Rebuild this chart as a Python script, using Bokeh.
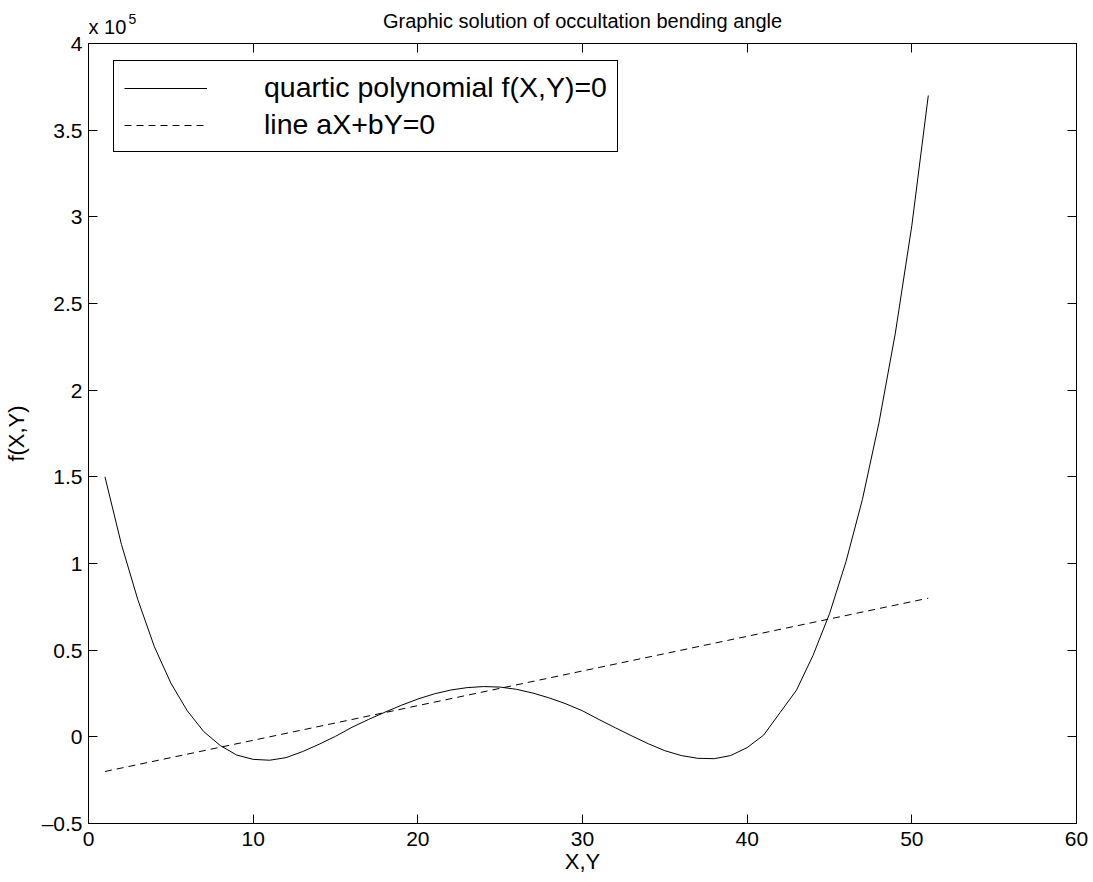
from bokeh.plotting import figure
from bokeh.layouts import column
from bokeh.models import (Range1d, LinearAxis, FixedTicker, CustomJSTickFormatter,
                          Legend, LegendItem)
from bokeh.core.properties import value
from bokeh.embed import file_html
from bokeh.resources import INLINE

# quartic polynomial sampled at X = 1..51
x_poly = list(range(1, 52))
f_poly = [150000, 111000, 79000, 52000, 31000, 15000, 3000, -5000, -10500, -13000,
          -13500, -12000, -8500, -4300, 300, 5500, 10000, 14200, 18200, 21800,
          24800, 27000, 28400, 29000, 28700, 27400, 25200, 22400, 19000, 15000,
          10000, 5200, 500, -4000, -8000, -10800, -12400, -12600, -10800, -6200,
          1000, 14000, 27000, 47000, 71000, 101000, 137000, 181000, 233000, 295000,
          370000]

# straight line aX+bY=0
x_line = [1, 51]
f_line = [-20000, 80000]

x_ticks = [0, 10, 20, 30, 40, 50, 60]
y_ticks = [-50000, 0, 50000, 100000, 150000, 200000, 250000, 300000, 350000, 400000]

title_text = "Graphic solution of occultation bending angle"
FONT = "Liberation Sans"

W, H = 1093, 882
HEAD = 43             # header strip height (= top of the axes box)
OVERLAP = 12          # main plot border that slides under the header
LEFT, RIGHT = 88, 17  # plot frame borders
LIFT = 7              # baseline correction for the header texts

# header strip: title and the y-axis scale factor, in page pixels
hdr = figure(width=W, height=HEAD, output_backend="svg", toolbar_location=None,
             x_range=Range1d(LEFT, W - RIGHT), y_range=Range1d(0, HEAD),
             x_axis_type=None, y_axis_type=None,
             min_border_left=LEFT, min_border_right=RIGHT, min_border_top=0, min_border_bottom=0)
hdr.outline_line_color = None
hdr.grid.visible = False
hdr.text(x=[(LEFT + W - RIGHT) / 2], y=[HEAD - 27 + LIFT], text=[title_text],
         text_font=value(FONT), text_font_size="20px", text_align="center",
         text_baseline="alphabetic", text_color="black")
hdr.text(x=[LEFT], y=[HEAD - 33 + LIFT], text=["x 10"], text_font=value(FONT),
         text_font_size="20px", text_align="left", text_baseline="alphabetic",
         text_color="black")
hdr.text(x=[LEFT + 40], y=[HEAD - 25 + LIFT], text=["5"], text_font=value(FONT),
         text_font_size="14px", text_align="left", text_baseline="alphabetic",
         text_color="black")

p = figure(width=W, height=H - HEAD + OVERLAP, output_backend="svg", toolbar_location=None,
           x_range=Range1d(0, 60), y_range=Range1d(-50000, 400000),
           min_border_left=LEFT, min_border_right=RIGHT, min_border_top=OVERLAP,
           min_border_bottom=59, margin=(-OVERLAP, 0, 0, 0))

p.grid.visible = False
p.outline_line_color = "black"
p.outline_line_width = 1
p.background_fill_color = "white"
p.border_fill_color = None

y_fmt = CustomJSTickFormatter(code="""
    const v = Math.round(tick / 1e5 * 10) / 10;
    if (v < 0) { return "\\u2013" + String(Math.abs(v)); }
    return String(v);
""")

def style_axis(ax, labels=True):
    ax.axis_line_color = "black"
    ax.major_tick_line_color = "black"
    ax.major_tick_in = 9
    ax.major_tick_out = 0
    ax.minor_tick_line_color = None
    ax.major_label_text_font = FONT
    if labels:
        ax.major_label_text_font_size = "21px"
        ax.major_label_text_color = "black"
    else:
        ax.major_label_text_font_size = "0px"
        ax.major_label_text_color = None
        ax.major_label_standoff = 0

xa = p.xaxis[0]
xa.ticker = FixedTicker(ticks=x_ticks)
style_axis(xa)
xa.major_label_standoff = 8
xa.axis_label = "X,Y"
xa.axis_label_text_font = FONT
xa.axis_label_text_font_size = "22px"
xa.axis_label_text_font_style = "normal"
xa.axis_label_text_color = "black"
xa.axis_label_standoff = 0

ya = p.yaxis[0]
ya.ticker = FixedTicker(ticks=y_ticks)
ya.formatter = y_fmt
style_axis(ya)
ya.major_label_standoff = 6
ya.axis_label = "f(X,Y)"
ya.axis_label_text_font = FONT
ya.axis_label_text_font_size = "22px"
ya.axis_label_text_font_style = "normal"
ya.axis_label_text_color = "black"
ya.axis_label_standoff = 10

top_ax = LinearAxis(ticker=FixedTicker(ticks=x_ticks))
style_axis(top_ax, labels=False)
p.add_layout(top_ax, "above")

right_ax = LinearAxis(ticker=FixedTicker(ticks=y_ticks))
style_axis(right_ax, labels=False)
p.add_layout(right_ax, "right")

r_poly = p.line(x_poly, f_poly, line_color="black", line_width=1)
r_line = p.line(x_line, f_line, line_color="black", line_width=1, line_dash="7 5")

legend = Legend(items=[LegendItem(label="quartic polynomial f(X,Y)=0", renderers=[r_poly]),
                       LegendItem(label="line aX+bY=0", renderers=[r_line])],
                location=(25, 671))
legend.label_text_font = FONT
legend.label_text_font_size = "28.5px"
legend.label_text_color = "black"
legend.glyph_width = 83
legend.label_standoff = 57
legend.padding = 10
legend.spacing = 4
legend.border_line_color = "black"
legend.border_line_width = 1
legend.border_line_alpha = 1
legend.background_fill_alpha = 1
legend.margin = 0
p.add_layout(legend)

page = column(hdr, p, spacing=0)
open("out.html", "w").write(file_html(page, INLINE))
